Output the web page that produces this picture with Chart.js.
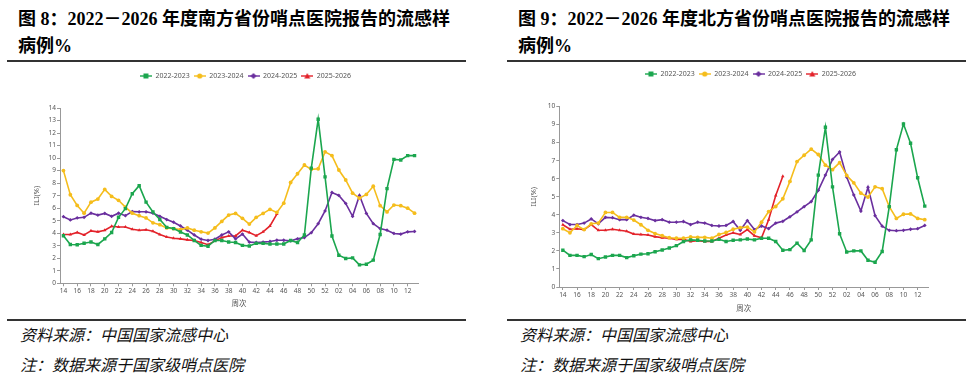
<!DOCTYPE html>
<html><head><meta charset="utf-8">
<script src="https://cdn.jsdelivr.net/npm/chart.js@4"></script>
<style>
html,body{margin:0;padding:0;background:#fff;width:973px;height:382px;overflow:hidden}
body{position:relative}
.title{position:absolute;top:5.5px;font:700 18px/27px "Liberation Serif","Noto Sans CJK SC",serif;color:#000;white-space:nowrap}
.rule{position:absolute;background:#333}
.note{position:absolute;top:319px;font:italic 400 16px/30px "Noto Sans CJK SC",sans-serif;color:#111;white-space:nowrap}
canvas{position:absolute}
</style></head><body>
<div class="title" style="left:18px">图 8：2022－2026 年度南方省份哨点医院报告的流感样<br>病例%</div>
<div class="title" style="left:518px">图 9：2022－2026 年度北方省份哨点医院报告的流感样<br>病例%</div>
<div class="rule" style="left:7px;top:60px;width:459px;height:2px"></div>
<div class="rule" style="left:507px;top:60px;width:459px;height:2px"></div>
<div class="rule" style="left:7px;top:319px;width:459px;height:1.5px"></div>
<div class="rule" style="left:507px;top:319px;width:459px;height:1.5px"></div>
<div class="note" style="left:20px">资料来源：中国国家流感中心<br>注：数据来源于国家级哨点医院</div>
<div class="note" style="left:520px">资料来源：中国国家流感中心<br>注：数据来源于国家级哨点医院</div>
<canvas id="c1" width="463" height="255" style="left:0;top:62px"></canvas>
<canvas id="c2" width="486" height="256" style="left:490px;top:62px"></canvas>
<script>
const weeks = ["14","15","16","17","18","19","20","21","22","23","24","25","26","27","28","29","30","31","32","33","34","35","36","37","38","39","40","41","42","43","44","45","46","47","48","49","50","51","52","01","02","03","04","05","06","07","08","09","10","11","12","13"];
const seriesNames = ["2022-2023","2023-2024","2024-2025","2025-2026"];

// 南方 (South)
const south2223 = [3.8,3.1,3.08,3.2,3.3,3.1,3.55,4.06,5.27,5.96,7.15,7.8,6.48,5.7,5.1,4.47,4.37,4.1,3.86,3.42,3.03,2.96,3.42,3.42,3.3,3.26,3.03,2.98,3.19,3.19,3.14,3.14,3.14,3.42,3.26,3.86,9.2,13.1,8.5,3.78,2.24,1.98,2.03,1.47,1.52,1.85,3.9,7.56,9.9,9.85,10.2,10.2];
const south2324 = [9.0,7.07,6.22,5.6,6.48,6.73,7.5,6.94,6.63,6.09,5.6,5.4,5.22,4.83,4.68,4.42,4.37,4.29,4.42,4.24,4.11,4.01,4.42,4.94,5.45,5.58,5.19,4.73,5.27,5.58,5.91,5.66,6.4,8.05,8.75,9.45,9.1,9.15,10.5,10.2,9.05,8.25,7.2,6.8,7.1,7.75,6.2,5.7,6.25,6.2,6.0,5.6];
const south2425 = [5.32,5.06,5.22,5.27,5.6,5.45,5.58,5.35,5.6,5.4,5.73,5.71,5.71,5.6,5.35,5.09,4.88,4.58,4.24,3.86,3.52,3.42,3.52,3.86,4.11,3.55,3.93,3.29,3.26,3.29,3.34,3.44,3.44,3.39,3.55,3.65,4.04,4.76,5.78,7.25,7.02,6.38,5.35,7.02,5.58,4.76,4.37,4.24,3.98,3.93,4.11,4.14];
const south2526 = [3.9,3.9,4.06,3.86,4.19,4.11,4.24,4.55,4.5,4.5,4.32,4.24,4.27,4.16,3.9,3.7,3.6,3.55,3.47,3.42,3.26,3.08,3.39,3.65,3.78,3.78,4.24,4.06,3.8,4.11,4.58,5.53];

// 北方 (North)
const north2223 = [2.04,1.75,1.75,1.68,1.8,1.57,1.66,1.75,1.75,1.63,1.73,1.82,1.84,1.95,2.05,2.16,2.29,2.52,2.61,2.59,2.55,2.55,2.64,2.52,2.59,2.61,2.66,2.61,2.7,2.7,2.52,2.04,2.07,2.43,2.02,2.61,6.2,8.85,5.55,2.95,1.94,2.0,2.0,1.48,1.37,1.97,4.45,7.6,9.03,7.96,6.05,4.48];
const north2324 = [3.23,3.0,3.41,3.18,3.5,3.54,4.13,4.13,3.86,3.86,3.71,3.45,3.14,2.96,2.84,2.73,2.7,2.7,2.77,2.75,2.75,2.7,2.91,3.02,3.2,3.29,3.32,3.05,3.59,4.18,4.46,4.89,5.85,6.95,7.3,7.64,7.34,6.75,6.5,6.89,6.18,5.77,5.2,4.98,5.55,5.45,4.45,3.8,4.03,4.05,3.8,3.73];
const north2425 = [3.68,3.46,3.46,3.54,3.77,3.5,3.86,3.84,3.73,3.73,3.98,3.86,3.8,3.68,3.73,3.59,3.59,3.63,3.46,3.59,3.54,3.41,3.38,3.41,3.63,3.14,3.68,3.18,3.38,3.23,3.54,3.64,3.89,4.16,4.45,4.73,5.36,6.2,7.07,7.48,6.09,5.1,4.21,5.52,3.95,3.37,3.14,3.12,3.14,3.2,3.23,3.41];
const north2526 = [3.45,3.2,3.23,3.18,3.46,3.14,3.14,3.2,3.14,3.09,2.93,2.91,2.88,2.79,2.73,2.7,2.64,2.64,2.52,2.57,2.52,2.52,2.7,2.88,3.0,2.91,3.18,2.84,2.73,3.73,5.07,6.14];

const southTicksMax = 14;
const northTicksMax = 10;
const xTitle = "周次";
const yTitle = "ILI(%)";

const colors = ["#1ba64e","#f5bd1c","#6a2f9e","#e3222a"];
const styles = ["rect","circle","rectRot","triangle"];
const radii = [2.4,1.9,1.9,2.0];

function icon(color, style){
  const c=document.createElement('canvas'); c.width=12; c.height=8;
  const g=c.getContext('2d');
  g.strokeStyle=color; g.lineWidth=1.4; g.beginPath(); g.moveTo(0,4); g.lineTo(12,4); g.stroke();
  g.fillStyle=color; g.beginPath();
  if(style==='rect'){ g.rect(3.5,1.5,5,5); }
  else if(style==='circle'){ g.arc(6,4,2.6,0,Math.PI*2); }
  else if(style==='rectRot'){ g.moveTo(6,1); g.lineTo(9,4); g.lineTo(6,7); g.lineTo(3,4); g.closePath(); }
  else { g.moveTo(6,1); g.lineTo(9,6.5); g.lineTo(3,6.5); g.closePath(); }
  g.fill();
  return c;
}
const icons = colors.map((c,i)=>icon(c,styles[i]));

const tickFont = {family:'"Noto Sans", sans-serif', size:6.5};
const gray = '#555';
const axisGray = '#999';

function makeChart(id, series, yMax, g){
  const datasets = series.map((d,i)=>({
    label: seriesNames[i], data: d,
    borderColor: colors[i], backgroundColor: colors[i],
    borderWidth: 1.6, pointStyle: styles[i], pointRadius: radii[i],
    pointBorderWidth: 0, pointBackgroundColor: colors[i], tension: 0, fill:false
  }));
  return new Chart(document.getElementById(id), {
    type:'line',
    data:{labels: weeks, datasets},
    options:{
      responsive:false, animation:false, devicePixelRatio:1,
      layout:{padding:{left:g.pl, top:g.pt, right:0, bottom:0}},
      plugins:{
        tooltip:{enabled:false},
        legend:{position:'top', labels:{
          usePointStyle:true, pointStyleWidth:12, boxHeight:7, padding:4, color:gray,
          font:{family:'"Noto Sans", sans-serif', size:7},
          generateLabels: ch => Chart.defaults.plugins.legend.labels.generateLabels(ch).map((it,i)=>Object.assign(it,{pointStyle: icons[i]}))
        }}
      },
      scales:{
        x:{type:'category', offset:true,
          grid:{display:true, drawOnChartArea:false, offset:false, tickLength:3, color: c => (c.index % 2) ? 'rgba(0,0,0,0)' : axisGray},
          border:{display:true, color:axisGray, width:1},
          ticks:{autoSkip:false, maxRotation:0, minRotation:0, padding:1, color:gray, font:tickFont,
            callback:(v,i)=> (i % 2) ? '' : weeks[i]},
          title:{display:true, text:xTitle, color:gray, font:{family:'"Noto Sans CJK SC", sans-serif', size:7.5}, padding:{top:0, bottom:g.xtp}},
          afterFit: s => { s.height = g.xh; }
        },
        y:{min:0, max:yMax,
          grid:{display:true, drawOnChartArea:false, tickLength:3, color:axisGray},
          border:{display:true, color:axisGray, width:1},
          ticks:{stepSize:1, padding:1, color:gray, font:tickFont},
          title:{display:true, text:yTitle, color:gray, font:{family:'"Noto Sans", sans-serif', size:7.5}, padding:{top:4, bottom:0}},
          afterFit: s => { s.width = g.yw; }
        },
        yr:{axis:'y', position:'right', display:true, min:0, max:1,
          grid:{display:false}, ticks:{display:false}, border:{display:false},
          afterFit: s => { s.width = g.rw; }
        },
        xt:{axis:'x', type:'linear', position:'top', display:true, min:0, max:1,
          grid:{display:false}, ticks:{display:false}, border:{display:false},
          afterFit: s => { s.height = g.th; }
        }
      }
    }
  });
}

makeChart('c1', [south2223, south2324, south2425, south2526], southTicksMax,
  {pl:28, yw:32, rw:45, pt:6.5, th:18.5, xh:33.7, xtp:9.2});
makeChart('c2', [north2223, north2324, north2425, north2526], northTicksMax,
  {pl:35, yw:34.3, rw:47.7, pt:4.5, th:19, xh:31, xtp:5.8});
</script>
</body></html>
